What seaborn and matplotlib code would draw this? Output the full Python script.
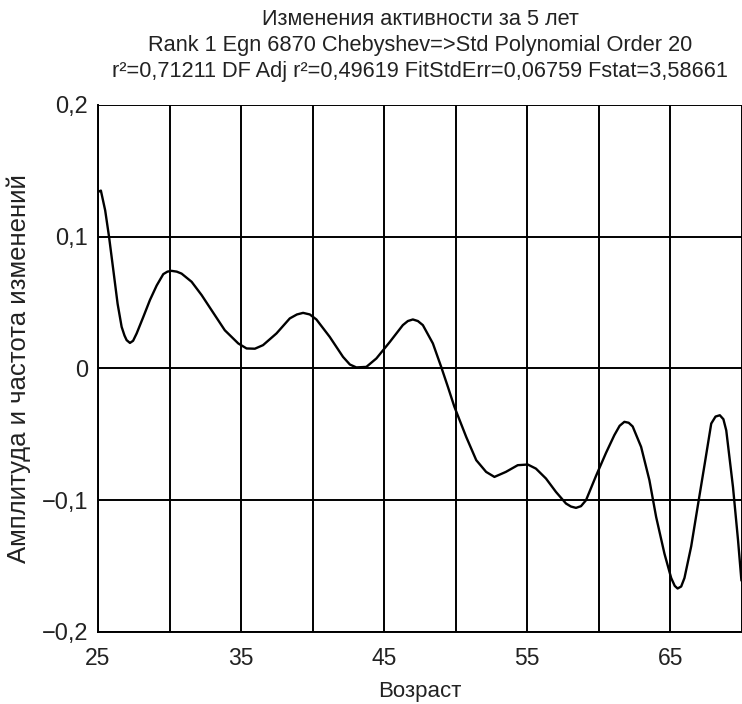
import numpy as np
import pandas as pd
import matplotlib
matplotlib.use("Agg")
import matplotlib.pyplot as plt
import seaborn as sns

# values
age = [25.0, 25.2, 25.5, 25.77, 26.07, 26.37, 26.65, 26.85, 27.0, 27.23, 27.45, 27.7,
       28.16, 28.63, 29.1, 29.56, 29.85, 30.14, 30.5, 30.84, 31.54, 32.24, 32.93, 33.86,
       34.8, 35.38, 35.96, 36.53, 37.47, 38.4, 38.9, 39.33, 39.8, 40.26, 41.19, 42.12,
       42.6, 43.05, 43.75, 44.45, 45.38, 46.3, 46.65, 47.0, 47.35, 47.7, 48.4, 48.98, 49.45,
       49.9, 50.73, 51.43, 52.12, 52.7, 53.5, 54.33, 55.03, 55.6, 56.3,
       57.0, 57.7, 58.05, 58.4, 58.75, 59.1, 59.8, 60.5, 61.08, 61.45, 61.78, 62.08, 62.36, 62.95,
       63.53, 64.0, 64.58, 65.05, 65.3, 65.5, 65.75, 65.98, 66.45, 66.9, 67.4, 67.85,
       68.15, 68.45, 68.7, 68.9, 69.37, 69.72, 69.96]
activity = [0.134, 0.135, 0.120, 0.100, 0.0746, 0.049, 0.0316, 0.025, 0.0215, 0.0194, 0.021, 0.0266,
            0.039, 0.052, 0.063, 0.0716, 0.0735, 0.0741, 0.0735, 0.072, 0.0658, 0.0557, 0.0443, 0.029,
            0.019, 0.0152, 0.0150, 0.0177, 0.0266, 0.038, 0.041, 0.0422, 0.041, 0.0372, 0.024, 0.0088,
            0.003, 0.0008, 0.0012, 0.0076, 0.020, 0.0329, 0.036, 0.0372, 0.036, 0.0329, 0.019, 0.0012, -0.014,
            -0.029, -0.052, -0.0696, -0.0785, -0.0823, -0.0785, -0.0734, -0.0729, -0.076, -0.0835,
            -0.0937, -0.1025, -0.1048, -0.1058, -0.1045, -0.100, -0.0815, -0.064, -0.0506, -0.0435, -0.0405, -0.0412, -0.044, -0.0595,
            -0.0848, -0.1127, -0.1405, -0.159, -0.1650, -0.167, -0.1655, -0.159, -0.135, -0.105, -0.072, -0.0418,
            -0.0365, -0.0355, -0.0385, -0.047, -0.090, -0.130, -0.161]

x_ticks = [25, 35, 45, 55, 65]
y_ticks = [-0.2, -0.1, 0, 0.1, 0.2]
y_tick_labels = ["\u22120,2", "\u22120,1", "0", "0,1", "0,2"]

title = ("Изменения активности за 5 лет\n"
         "Rank 1 Egn 6870 Chebyshev=>Std Polynomial Order 20\n"
         "r\u00b2=0,71211 DF Adj r\u00b2=0,49619 FitStdErr=0,06759 Fstat=3,58661")

sns.set_style("white")
plt.rcParams['font.family'] = ['Liberation Sans', 'DejaVu Sans']

df = pd.DataFrame({"age": age, "activity": activity})

fig = plt.figure(figsize=(7.42, 7.04), dpi=100)
ax = fig.add_axes([0.1321, 0.1023, 0.8679, 0.7486])

sns.lineplot(data=df, x="age", y="activity", ax=ax, color="black", linewidth=1.7)

ax.set_xlim(25, 70)
ax.set_ylim(-0.2, 0.2)
ax.set_xticks(np.arange(25, 71, 5))
ax.set_xticklabels([str(v) if v in x_ticks else "" for v in range(25, 71, 5)], fontsize=16.5)
ax.set_yticks(y_ticks)
ax.set_yticklabels(y_tick_labels, fontsize=17)

ax.grid(True, color="black", linewidth=1.4)
ax.set_axisbelow(True)
for side in ["top", "right"]:
    ax.spines[side].set_visible(False)
for side in ["left", "bottom"]:
    ax.spines[side].set_color("black")
    ax.spines[side].set_linewidth(1.4)
ax.tick_params(axis="both", direction="out", length=4, width=1.2, color="black",
               labelcolor="#222222")
ax.tick_params(axis="x", pad=7)
ax.tick_params(axis="y", pad=3)

ax.set_xlabel("Возраст", fontsize=16, color="#222222", labelpad=8)
ax.set_ylabel("Амплитуда и частота изменений", fontsize=18.5, color="#222222", labelpad=8)
fig.text(0.566, 0.987, title, ha="center", va="top", fontsize=15.7, color="#222222",
         linespacing=1.3)

fig.savefig("out.png", dpi=100)
